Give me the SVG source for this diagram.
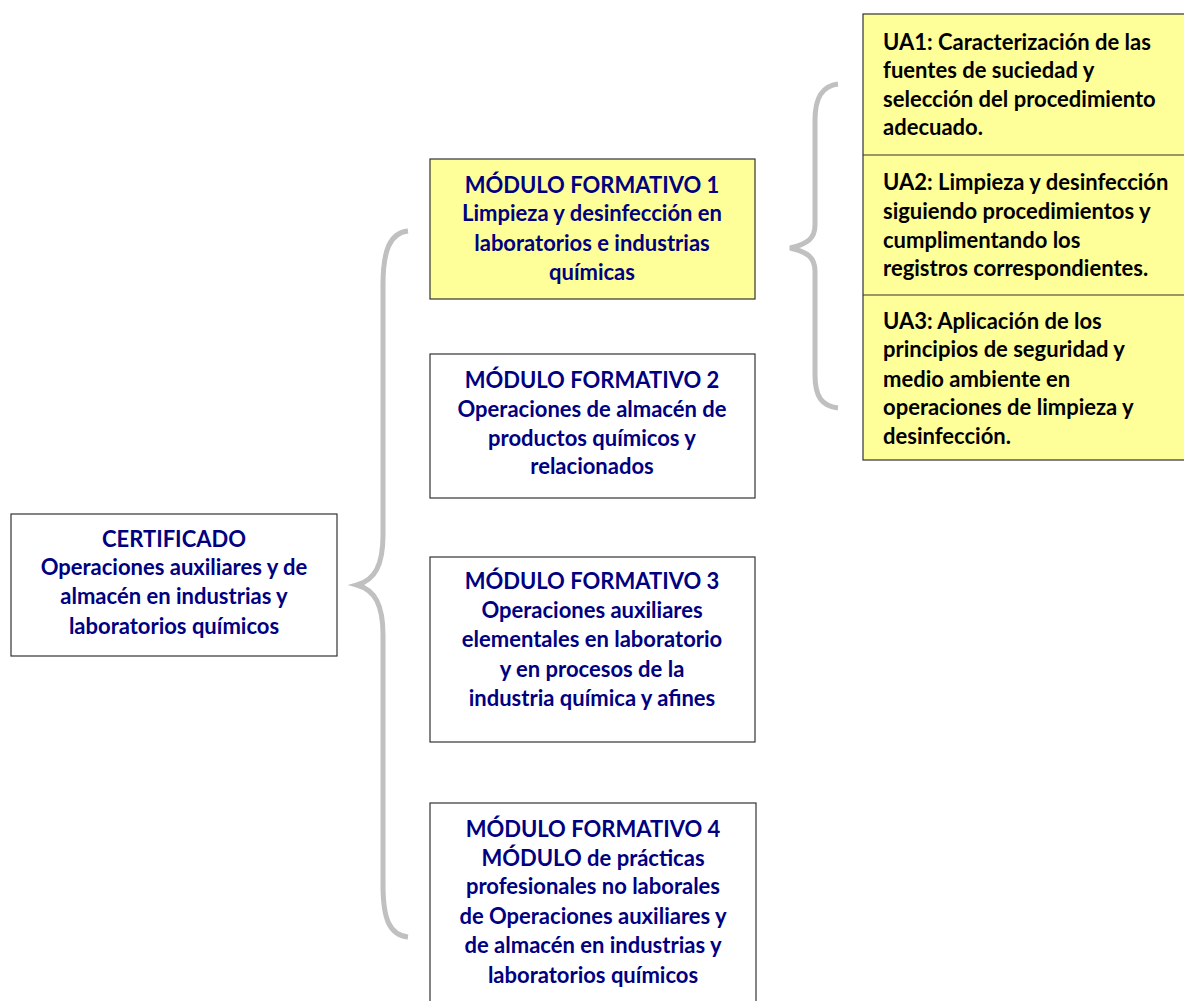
<svg xmlns="http://www.w3.org/2000/svg" width="1184" height="1001" viewBox="0 0 1184 1001">
<style>
.box{stroke:#333;stroke-width:1.2}
.w{fill:#fff}
.y{fill:#ffff99}
.t{font-family:Lato,"Open Sans",sans-serif;font-weight:bold;font-size:22px;fill:#000080;text-anchor:middle}
.u{font-family:Lato,"Open Sans",sans-serif;font-weight:bold;font-size:22px;fill:#000}
.br{fill:none;stroke:#c0c0c0;stroke-width:5;stroke-linecap:butt}
</style>
<rect width="1184" height="1001" fill="#fff"/>
<g id="connectors">
<path class="br" d="M408,231 C390,233 383,250 383,285 L383,535 C383,565 375,580 357,585 C375,590 383,605 383,635 L383,885 C383,920 390,935 408,937"/>
<path class="br" d="M838,84 C822,86 815,98 815,120 L815,225 C815,238 808,244 790,248 C808,252 815,258 815,271 L815,375 C815,397 822,406 838,408"/>
</g>
<g id="certificado">
<rect class="box w" x="11" y="514" width="326" height="142"/>
<text class="t" x="174" y="547">CERTIFICADO</text>
<text class="t" x="174" y="575">Operaciones auxiliares y de</text>
<text class="t" x="174" y="604">almacén en industrias y</text>
<text class="t" x="174" y="634">laboratorios químicos</text>
</g>
<g id="mf1">
<rect class="box y" x="430" y="159" width="325" height="140"/>
<text class="t" x="592" y="193">MÓDULO FORMATIVO 1</text>
<text class="t" x="592" y="221">Limpieza y desinfección en</text>
<text class="t" x="592" y="251">laboratorios e industrias</text>
<text class="t" x="592" y="280">químicas</text>
</g>
<g id="mf2">
<rect class="box w" x="430" y="354" width="325" height="144"/>
<text class="t" x="592" y="388">MÓDULO FORMATIVO 2</text>
<text class="t" x="592" y="417">Operaciones de almacén de</text>
<text class="t" x="592" y="446">productos químicos y</text>
<text class="t" x="592" y="474">relacionados</text>
</g>
<g id="mf3">
<rect class="box w" x="430" y="557" width="325" height="185"/>
<text class="t" x="592" y="589">MÓDULO FORMATIVO 3</text>
<text class="t" x="592" y="618">Operaciones auxiliares</text>
<text class="t" x="592" y="647">elementales en laboratorio</text>
<text class="t" x="592" y="677">y en procesos de la</text>
<text class="t" x="592" y="706">industria química y afines</text>
</g>
<g id="mf4">
<rect class="box w" x="430" y="803" width="326" height="210"/>
<text class="t" x="593" y="837">MÓDULO FORMATIVO 4</text>
<text class="t" x="593" y="866">MÓDULO de prácticas</text>
<text class="t" x="593" y="894">profesionales no laborales</text>
<text class="t" x="593" y="924">de Operaciones auxiliares y</text>
<text class="t" x="593" y="953">de almacén en industrias y</text>
<text class="t" x="593" y="983">laboratorios químicos</text>
</g>
<g id="ua">
<rect class="box y" x="863" y="14" width="330" height="446"/>
<line class="box" x1="863" y1="155" x2="1184" y2="155"/>
<line class="box" x1="863" y1="295" x2="1184" y2="295"/>
<text class="u" x="883" y="50">UA1: Caracterización de las</text>
<text class="u" x="883" y="78">fuentes de suciedad y</text>
<text class="u" x="883" y="107">selección del procedimiento</text>
<text class="u" x="883" y="135">adecuado.</text>
<text class="u" x="883" y="190">UA2: Limpieza y desinfección</text>
<text class="u" x="883" y="219">siguiendo procedimientos y</text>
<text class="u" x="883" y="248">cumplimentando los</text>
<text class="u" x="883" y="276">registros correspondientes.</text>
<text class="u" x="883" y="329">UA3: Aplicación de los</text>
<text class="u" x="883" y="357">principios de seguridad y</text>
<text class="u" x="883" y="387">medio ambiente en</text>
<text class="u" x="883" y="415">operaciones de limpieza y</text>
<text class="u" x="883" y="444">desinfección.</text>
</g>
</svg>
